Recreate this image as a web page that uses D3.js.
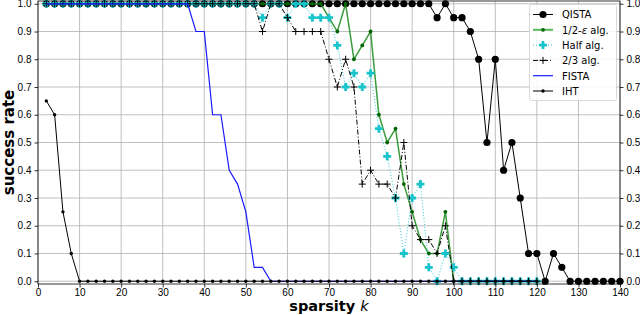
<!DOCTYPE html>
<meta charset="utf-8">
<style>
body { margin: 0; background: #fff; }
svg { font-family: "DejaVu Sans", sans-serif; }
.axis text { font-size: 10px; fill: #000; }
.axis path, .axis line { stroke: #000; stroke-width: 0.8; }
.grid line { stroke: #b0b0b0; stroke-width: 0.8; }
</style>
<body>
<svg width="640" height="315"></svg>
</body>
<script src="https://d3js.org/d3.v7.min.js"></script>
<script>

// sparsity values (x)
var kShort = d3.range(2, 121, 2),   // 2..120
    kLong = d3.range(2, 141, 2);    // 2..140

// success rates
var qista = [1,1,1,1,1,1,1,1,1,1, 1,1,1,1,1,1,1,1,1,1, 1,1,1,1,1,1,1,1,1,1,
             1,1,1,1,1,1,1,1,1,1, 1,1,1,1,1,1,1,
             0.95,1,0.95,0.95,0.9,0.8,0.5,0.8,0.4,0.5,0.3,0.1,0.1,0,0.1,0.05,
             0,0,0,0,0,0,0];
var halfEps = [1,1,1,1,1,1,1,1,1,1, 1,1,1,1,1,1,1,1,1,1, 1,1,1,1,1,1,1,1,1,1,
               1,1,1,1,
               0.95,0.9,1,0.8,0.85,0.9,0.6,0.5,0.55,0.35,0.25,0.15,0.1,0.1,0.25,
               0,0,0,0,0,0,0,0,0,0,0];
var half = [1,1,1,1,1,1,1,1,1,1, 1,1,1,1,1,1,1,1,1,1, 1,1,1,1,1,1,
            0.95,1,1,0.95,1,1,0.95,0.95,0.95,0.85,0.7,0.75,0.7,0.75,0.55,0.45,
            0.3,0.1,0.3,0.35,0.05,0,0.1,0.05,
            0,0,0,0,0,0,0,0,0,0];
var twoThirds = [1,1,1,1,1,1,1,1,1,1, 1,1,1,1,1,1,1,1,1,1, 1,1,1,1,1,1,
                 0.9,1,1,0.95,0.9,0.9,0.9,0.9,0.8,0.7,0.8,0.7,0.35,0.4,0.35,0.35,
                 0.3,0.5,0.2,0.15,0.15,0.1,0.2,
                 0,0,0,0,0,0,0,0,0,0,0];
var fista = [1,1,1,1,1,1,1,1,1,1, 1,1,1,1,1,1,1,1,
             0.9,0.9,0.6,0.6,0.4,0.35,0.25,0.05,0.05,
             0,0,0,0,0,0,0,0,0,0, 0,0,0,0,0,0,0,0,0,0, 0,0,0,0,0,0,0,0,0,0, 0,0,0];
var iht = [0.65,0.6,0.25,0.1,
           0,0,0,0,0,0,0,0,0,0, 0,0,0,0,0,0,0,0,0,0, 0,0,0,0,0,0,0,0,0,0,
           0,0,0,0,0,0,0,0,0,0, 0,0,0,0,0,0,0,0,0,0, 0,0,0,0,0,0];

var xTicks = d3.range(0, 141, 10),
    yTicks = d3.range(0, 11).map(function(i) { return i / 10; });

var svg = d3.select("svg"),
    box = {left: 38, right: 620, top: 1, bottom: 284};

var x = d3.scaleLinear().domain([0, 140]).range([box.left, box.right]),
    y = d3.scaleLinear().domain([-0.01, 1.01]).range([box.bottom, box.top]);

svg.append("defs").append("clipPath").attr("id", "clip")
  .append("rect").attr("x", box.left).attr("y", box.top)
  .attr("width", box.right - box.left).attr("height", box.bottom - box.top);

// grid
var grid = svg.append("g").attr("class", "grid");
grid.selectAll(".gx").data(xTicks).enter().append("line")
    .attr("x1", function(d) { return x(d); }).attr("x2", function(d) { return x(d); })
    .attr("y1", box.top).attr("y2", box.bottom);
grid.selectAll(".gy").data(yTicks).enter().append("line")
    .attr("x1", box.left).attr("x2", box.right)
    .attr("y1", function(d) { return y(d); }).attr("y2", function(d) { return y(d); });

// series
var series = [
  {name: "QISTA", k: kLong, v: qista, color: "#000", width: 1, dash: null, marker: "bigdot"},
  {name: "halfEps", k: kShort, v: halfEps, color: "#1a8a1a", width: 1.5, dash: null, marker: "gdot"},
  {name: "Half alg.", k: kShort, v: half, color: "#2ccdd6", width: 1, dash: "1,2", marker: "P"},
  {name: "2/3 alg.", k: kShort, v: twoThirds, color: "#000", width: 1, dash: "5,2,1,2", marker: "plus"},
  {name: "FISTA", k: kShort, v: fista, color: "#1a1aff", width: 1.2, dash: null, marker: null},
  {name: "IHT", k: kShort, v: iht, color: "#000", width: 1, dash: null, marker: "dot"}
];

var line = d3.line()
    .x(function(d) { return x(d[0]); })
    .y(function(d) { return y(d[1]); });

function drawMarker(sel, type) {
  if (type === "bigdot") {
    sel.append("circle").attr("r", 3.6).attr("fill", "#000");
  } else if (type === "gdot") {
    sel.append("circle").attr("r", 1.9).attr("fill", "#006400");
  } else if (type === "dot") {
    sel.append("circle").attr("r", 1.7).attr("fill", "#000");
  } else if (type === "P") {
    var a = 1.4, b = 4;
    sel.append("path")
      .attr("d", "M" + (-a) + "," + (-b) + "H" + a + "V" + (-a) + "H" + b + "V" + a +
                 "H" + a + "V" + b + "H" + (-a) + "V" + a + "H" + (-b) + "V" + (-a) +
                 "H" + (-a) + "Z")
      .attr("fill", "#17c4cc");
  } else if (type === "plus") {
    sel.append("path").attr("d", "M-3.5,0H3.5M0,-3.5V3.5")
      .attr("stroke", "#000").attr("stroke-width", 1).attr("fill", "none");
  }
}

series.forEach(function(s) {
  var pts = s.k.map(function(k, i) { return [k, s.v[i]]; });
  svg.append("path")
    .datum(pts)
    .attr("clip-path", "url(#clip)")
    .attr("fill", "none")
    .attr("stroke", s.color)
    .attr("stroke-width", s.width)
    .attr("stroke-dasharray", s.dash)
    .attr("stroke-opacity", s.name === "halfEps" ? 0.85 : 1)
    .attr("d", line);
  if (s.marker) {
    svg.append("g").selectAll("g").data(pts).enter().append("g")
      .attr("transform", function(d) { return "translate(" + x(d[0]) + "," + y(d[1]) + ")"; })
      .each(function() { drawMarker(d3.select(this), s.marker); });
  }
});

// axes
svg.append("g").attr("class", "axis")
    .attr("transform", "translate(" + box.left + ",0)")
    .call(d3.axisLeft(y).tickValues(yTicks).tickFormat(d3.format(".1f")).tickSize(3.5).tickSizeOuter(0));
svg.append("g").attr("class", "axis")
    .attr("transform", "translate(" + box.right + ",0)")
    .call(d3.axisRight(y).tickValues(yTicks).tickFormat(d3.format(".1f")).tickSize(3.5).tickSizeOuter(0));
svg.append("g").attr("class", "axis")
    .attr("transform", "translate(0," + box.bottom + ")")
    .call(d3.axisBottom(x).tickValues(xTicks).tickSize(3.5).tickPadding(1.5).tickSizeOuter(0));
svg.selectAll(".axis .domain").remove();
svg.append("rect")
    .attr("x", box.left).attr("y", box.top)
    .attr("width", box.right - box.left).attr("height", box.bottom - box.top)
    .attr("fill", "none").attr("stroke", "#000").attr("stroke-width", 0.8);

// axis labels
svg.append("text")
    .attr("transform", "translate(14," + ((box.top + box.bottom) / 2) + ") rotate(-90)")
    .attr("text-anchor", "middle")
    .style("font-size", "15px").style("font-weight", "bold")
    .text("success rate");
var xl = svg.append("text")
    .attr("x", (box.left + box.right) / 2).attr("y", 311)
    .attr("text-anchor", "middle")
    .style("font-size", "14.5px").style("font-weight", "bold");
xl.append("tspan").text("sparsity ");
xl.append("tspan").style("font-style", "italic").style("font-weight", "normal").text("k");

// legend
var legendItems = [
  {label: ["QISTA"], s: series[0]},
  {label: ["1/2-", "ε", " alg."], s: series[1]},
  {label: ["Half alg."], s: series[2]},
  {label: ["2/3 alg."], s: series[3]},
  {label: ["FISTA"], s: series[4]},
  {label: ["IHT"], s: series[5]}
];
var lg = svg.append("g");
lg.append("rect")
    .attr("x", 529.5).attr("y", 4.5).attr("width", 87).attr("height", 96).attr("rx", 2)
    .attr("fill", "#fff").attr("fill-opacity", 0.85)
    .attr("stroke", "#d0d0d0").attr("stroke-width", 0.8);
legendItems.forEach(function(it, i) {
  var yy = 14.5 + i * 15.3;
  var s = it.s;
  lg.append("line")
    .attr("x1", 533).attr("x2", 553).attr("y1", yy).attr("y2", yy)
    .attr("stroke", s.name === "halfEps" ? "#5cb85c" : s.color)
    .attr("stroke-width", s.name === "halfEps" ? 2 : s.width)
    .attr("stroke-dasharray", s.dash);
  if (s.marker) {
    var m = lg.append("g").attr("transform", "translate(543," + yy + ")");
    drawMarker(m, s.marker);
  }
  var t = lg.append("text").attr("x", 562).attr("y", yy + 3.8).style("font-size", "10px");
  it.label.forEach(function(p) {
    var ts = t.append("tspan").text(p);
    if (p === "ε") ts.style("font-style", "italic");
  });
});

</script>
